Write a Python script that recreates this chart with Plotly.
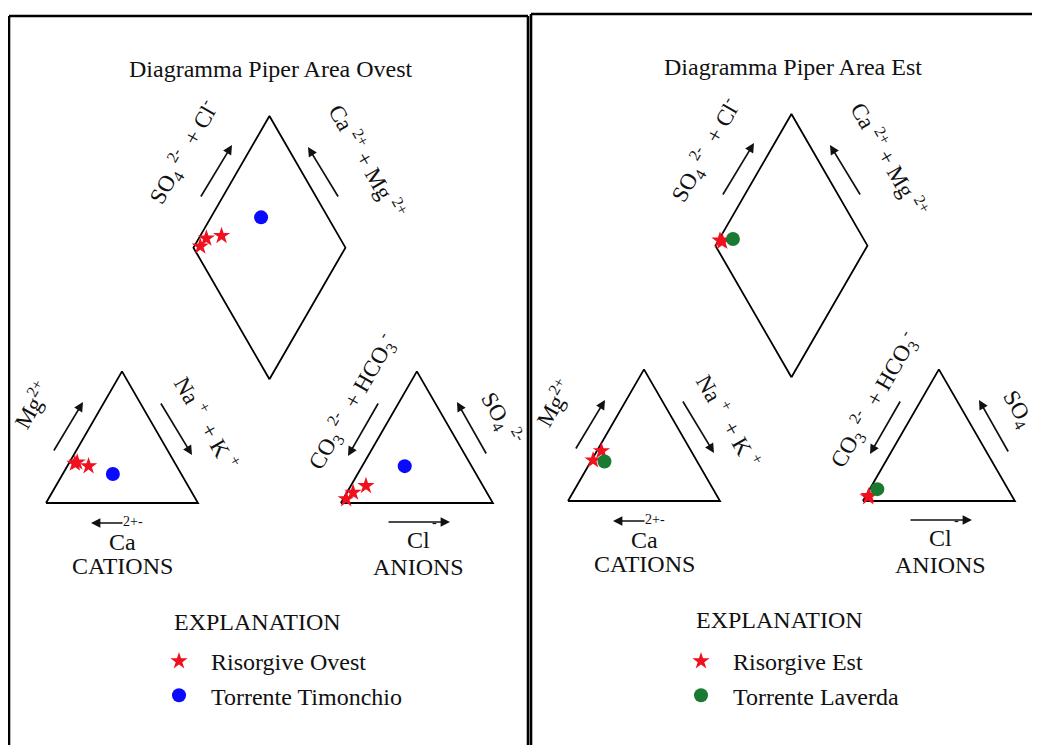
"""
Piper diagrams for the two spring areas (Ovest / Est).
"""
import math

import plotly.graph_objects as go

# percent of meq/L
ovest_ris_ca = [66, 64, 58]
ovest_ris_mg = [30, 31, 28]
ovest_ris_nak = [4, 5, 14]
ovest_ris_hco3 = [95, 88, 77]
ovest_ris_so4 = [3, 8, 13]
ovest_ris_cl = [2, 4, 10]

ovest_tor_ca = [45]
ovest_tor_mg = [22]
ovest_tor_nak = [33]
ovest_tor_hco3 = [44]
ovest_tor_so4 = [28]
ovest_tor_cl = [28]

est_ris_ca = [59, 68]
est_ris_mg = [38, 31]
est_ris_nak = [3, 1]
est_ris_hco3 = [94, 95]
est_ris_so4 = [4, 3]
est_ris_cl = [2, 2]

est_tor_ca = [61]
est_tor_mg = [30]
est_tor_nak = [9]
est_tor_hco3 = [86]
est_tor_so4 = [9]
est_tor_cl = [5]

# geometry of the sheet (page pixels)
PAGE_W, PAGE_H = 1040, 745
BODY = 8  # default body margin of the html page
SIDE = 152.0
GAP = 0.94
H = math.sqrt(3) / 2
SERIF = "Liberation Serif, Times New Roman, serif"
INK = "#111"
RED = "#f0101e"
BLUE = "#0a0aff"
GREEN = "#1b7a32"
SP = "&nbsp;"


def cation_uv(ca, mg, nak):
    t = ca + mg + nak
    return nak / t + 0.5 * mg / t, H * mg / t


def anion_uv(hco3, so4, cl):
    t = hco3 + so4 + cl
    return 1 + GAP + cl / t + 0.5 * so4 / t, H * so4 / t


def diamond_uv(ca, mg, nak, hco3, so4, cl):
    na = nak / (ca + mg + nak)
    a = (so4 + cl) / (hco3 + so4 + cl)
    return 0.5 * (1 + GAP + a + na), H * (1 + GAP + a - na)


def to_page(origin, pts):
    ox, oy = origin
    return [ox + SIDE * u for u, _ in pts], [oy - SIDE * v for _, v in pts]


def sample_points(origin, ca, mg, nak, hco3, so4, cl):
    pts = []
    for row in zip(ca, mg, nak, hco3, so4, cl):
        pts.append(cation_uv(*row[:3]))
        pts.append(anion_uv(*row[3:]))
        pts.append(diamond_uv(*row))
    return to_page(origin, pts)


def frame(fig, origin):
    outlines = [
        [(0, 0), (1, 0), (0.5, H), (0, 0)],
        [(1 + GAP, 0), (2 + GAP, 0), (1.5 + GAP, H), (1 + GAP, 0)],
        [
            (1 + GAP / 2, GAP * H),
            (1.5 + GAP / 2, H * (1 + GAP)),
            (1 + GAP / 2, H * (2 + GAP)),
            (0.5 + GAP / 2, H * (1 + GAP)),
            (1 + GAP / 2, GAP * H),
        ],
    ]
    for pts in outlines:
        xs, ys = to_page(origin, pts)
        fig.add_trace(
            go.Scatter(
                x=xs, y=ys, mode="lines", line={"color": "black", "width": 1.8},
                showlegend=False, hoverinfo="skip",
            )
        )


def labels(fig, dx, dy, title):
    def text(x, y, s, size=23, angle=0, anchor="center"):
        fig.add_annotation(
            x=x + dx, y=y + dy, text=s, textangle=angle, showarrow=False,
            xanchor=anchor, yanchor="middle",
            font={"family": SERIF, "size": size, "color": INK},
        )

    def arrow(tail, head):
        fig.add_annotation(
            x=head[0] + dx, y=head[1] + dy, ax=tail[0] + dx, ay=tail[1] + dy,
            xref="x", yref="y", axref="x", ayref="y", text="", showarrow=True,
            arrowhead=2, arrowsize=1.1, arrowwidth=1.7, arrowcolor=INK,
        )

    text(271, 69, title, size=24)
    text(183, 152, f"SO<sub>4</sub>{SP}<sup>2-</sup>{SP} +{SP}Cl<sup>-</sup>", angle=-60)
    text(368, 161, f"Ca{SP}<sup>2+</sup> +{SP}Mg{SP}<sup>2+</sup>", angle=60)
    text(31, 405, "Mg<sup>2+</sup>", angle=-60)
    text(207, 422, f"Na{SP}<sup>+</sup>{SP} +{SP}K{SP}<sup>+</sup>", angle=60)
    text(351, 402, f"CO<sub>3</sub>{SP}<sup>2-</sup>{SP} + HCO<sub>3</sub><sup>-</sup>", angle=-60)
    text(502, 418, "SO<sub>4</sub> <sup>2-</sup>", angle=60)
    text(122, 542, "Ca", size=24)
    text(133, 521, "2+-", size=14)
    text(122, 566, "CATIONS", size=24)
    text(418, 540, "Cl", size=24)
    text(434, 522, "-", size=14)
    text(418, 567, "ANIONS", size=24)
    text(172, 622, "EXPLANATION", size=24, anchor="left")

    arrow((200, 198), (232, 145))
    arrow((339, 198), (308, 147))
    arrow((53, 452), (83, 402))
    arrow((160, 402), (192, 455))
    arrow((124, 523), (91, 523))
    arrow((379, 402), (348, 456))
    arrow((487, 455), (457, 402))
    arrow((387, 522), (450, 522))


fig = go.Figure()

panels = [
    {
        "origin": (46, 503), "dx": 0, "dy": 0, "legend": "legend",
        "title": "Diagramma Piper Area Ovest",
        "series": [
            ("Risorgive Ovest", "star", RED, 13,
             (ovest_ris_ca, ovest_ris_mg, ovest_ris_nak, ovest_ris_hco3, ovest_ris_so4, ovest_ris_cl)),
            ("Torrente Timonchio", "circle", BLUE, 14,
             (ovest_tor_ca, ovest_tor_mg, ovest_tor_nak, ovest_tor_hco3, ovest_tor_so4, ovest_tor_cl)),
        ],
    },
    {
        "origin": (568, 501), "dx": 522, "dy": -2, "legend": "legend2",
        "title": "Diagramma Piper Area Est",
        "series": [
            ("Risorgive Est", "star", RED, 13,
             (est_ris_ca, est_ris_mg, est_ris_nak, est_ris_hco3, est_ris_so4, est_ris_cl)),
            ("Torrente Laverda", "circle", GREEN, 14,
             (est_tor_ca, est_tor_mg, est_tor_nak, est_tor_hco3, est_tor_so4, est_tor_cl)),
        ],
    },
]

for p in panels:
    frame(fig, p["origin"])
    labels(fig, p["dx"], p["dy"], p["title"])
    for name, symbol, color, size, comp in p["series"]:
        xs, ys = sample_points(p["origin"], *comp)
        fig.add_trace(
            go.Scatter(
                x=xs, y=ys, mode="markers", name=name, legend=p["legend"],
                marker={"symbol": symbol, "color": color, "size": size, "line": {"width": 0}},
            )
        )

# panel borders
for x0, y0, x1, y1 in [
    (9, 16, 9, 745), (9, 16, 528, 16), (528, 16, 528, 745),
    (531, 14, 531, 745), (531, 14, 1040, 14),
]:
    fig.add_shape(type="line", x0=x0, y0=y0, x1=x1, y1=y1, xref="x", yref="y",
                  line={"color": "black", "width": 2.6})

# the page keeps an 8px body margin: start the figure there
fig_w, fig_h = PAGE_W - BODY, PAGE_H - BODY


def paper_x(px):
    return (px - BODY) / fig_w


def paper_y(py):
    return 1 - (py - BODY) / fig_h


legend_style = {
    "font": {"family": SERIF, "size": 24, "color": INK},
    "bgcolor": "rgba(0,0,0,0)",
    "xanchor": "left",
    "yanchor": "top",
    "itemwidth": 54,
}
fig.update_layout(
    width=fig_w,
    height=fig_h,
    margin={"l": 0, "r": 0, "t": 0, "b": 0},
    paper_bgcolor="white",
    plot_bgcolor="white",
    xaxis={"range": [BODY, PAGE_W], "visible": False, "fixedrange": True},
    yaxis={"range": [PAGE_H, BODY], "visible": False, "fixedrange": True},
    legend={**legend_style, "x": paper_x(147), "y": paper_y(639)},
    legend2={**legend_style, "x": paper_x(669), "y": paper_y(639)},
)

fig.write_html("out.html")
